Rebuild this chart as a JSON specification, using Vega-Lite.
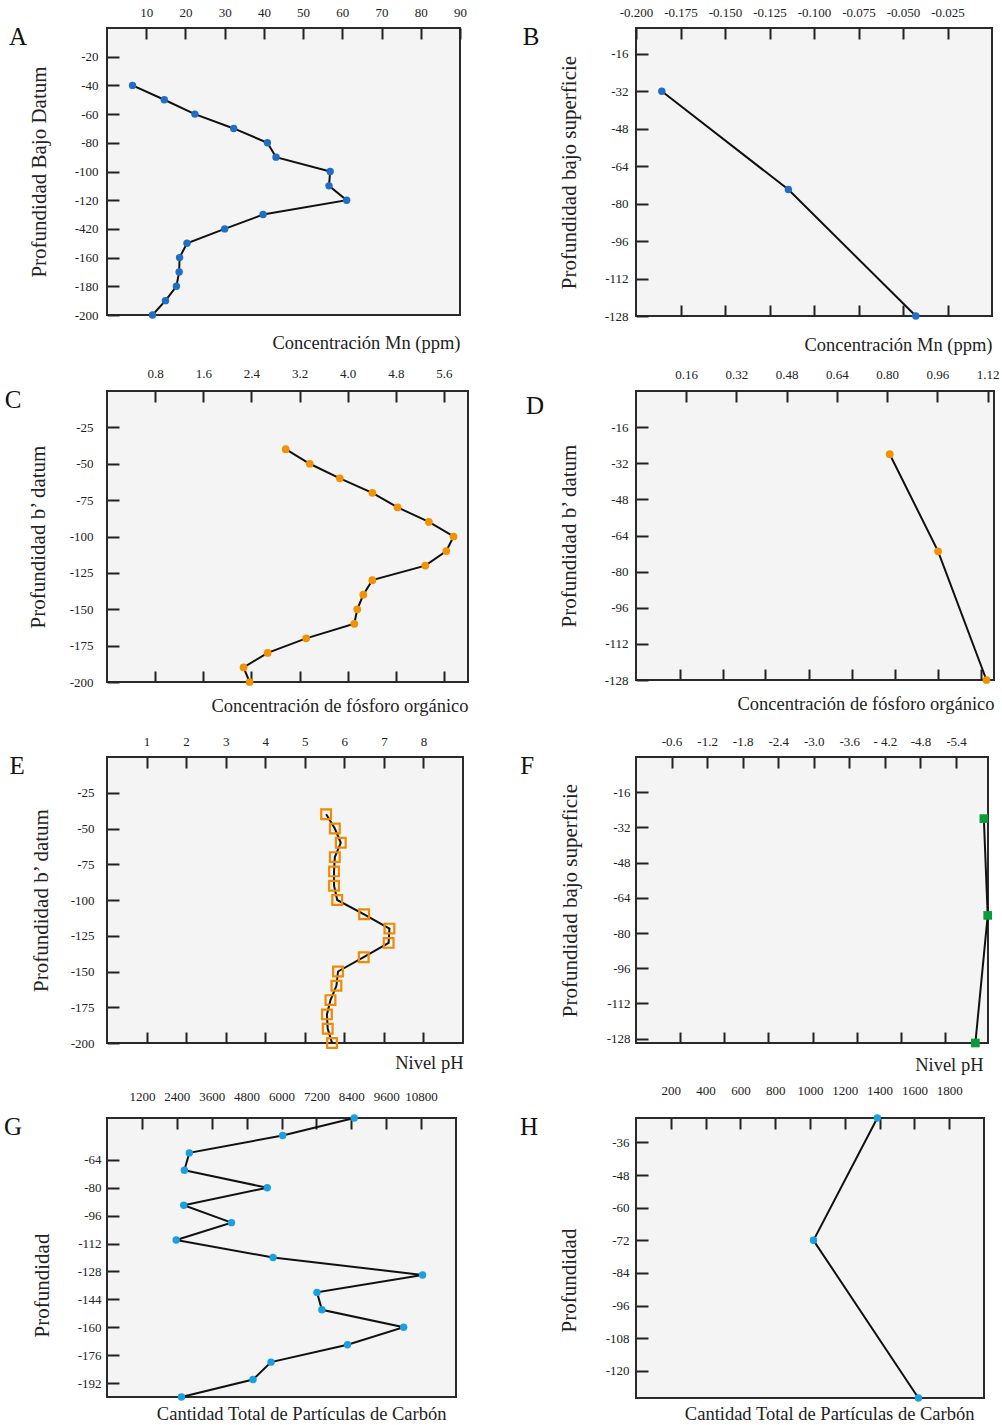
{
  "$schema": "https://vega.github.io/schema/vega-lite/v6.json",
  "background": "white",
  "padding": {"left": 3, "top": 5, "right": 2, "bottom": 2},
  "config": {
    "font": "Liberation Serif",
    "locale": {"number": {"decimal": ".", "thousands": ",", "grouping": [3], "currency": ["$", ""], "minus": "-"}},
    "view": {"fill": "#f4f4f4", "stroke": "#2a2a2a", "strokeWidth": 2},
    "title": {"font": "Liberation Serif", "fontSize": 25, "fontWeight": "normal", "color": "#111", "orient": "left", "anchor": "end", "frame": "group", "angle": 0, "baseline": "top", "align": "right", "dy": -3},
    "axis": {"domain": false, "grid": false, "labelFont": "Liberation Serif", "labelFontSize": 13, "labelColor": "#222", "titleFont": "Liberation Serif", "titleFontWeight": "normal", "titleColor": "#222", "tickColor": "#222", "tickWidth": 2, "tickSize": -11, "labelFlush": false, "labelOverlap": false},
    "axisY": {"titleFontSize": 21, "tickSize": -12},
    "axisX": {"titleFontSize": 18.5}
  },
  "columns": 2,
  "spacing": {"row": 75, "column": 168},
  "bounds": "flush",
  "concat": [
    {
      "width": 353, "height": 287,
      "title": {"text": "A", "offset": -17},
      "data": {"values": [
        {"depth": -40, "v": 6.5}, {"depth": -50, "v": 14.6}, {"depth": -60, "v": 22.4}, {"depth": -70, "v": 32.3},
        {"depth": -80, "v": 40.9}, {"depth": -90, "v": 43.1}, {"depth": -100, "v": 56.9}, {"depth": -110, "v": 56.6},
        {"depth": -120, "v": 61.1}, {"depth": -130, "v": 39.8}, {"depth": -140, "v": 30.0}, {"depth": -150, "v": 20.4},
        {"depth": -160, "v": 18.5}, {"depth": -170, "v": 18.4}, {"depth": -180, "v": 17.7}, {"depth": -190, "v": 14.9},
        {"depth": -200, "v": 11.6}
      ]},
      "encoding": {
        "y": {"field": "depth", "type": "quantitative", "scale": {"domain": [-200, 0], "nice": false, "zero": false},
              "axis": {"values": [-20, -40, -60, -80, -100, -120, -140, -160, -180, -200], "format": "d", "labelExpr": "datum.value == -140 ? '-420' : datum.label", "labelPadding": 21, "title": "Profundidad Bajo Datum", "titlePadding": 25}}
      },
      "layer": [
        {"mark": {"type": "line", "color": "#111", "strokeWidth": 2},
         "encoding": {
           "x": {"field": "v", "type": "quantitative", "scale": {"domain": [0, 90], "nice": false, "zero": false},
                 "axis": {"orient": "top", "values": [10, 20, 30, 40, 50, 60, 70, 80, 90], "format": "d", "labelPadding": 20, "title": null}},
           "order": {"field": "depth", "sort": "descending"}
         }},
        {"mark": {"type": "circle", "size": 55, "color": "#1f6fc5", "opacity": 1},
         "encoding": {
           "x": {"field": "v", "type": "quantitative", "axis": {"orient": "bottom", "labels": false, "ticks": false, "title": "Concentración Mn (ppm)", "titleAnchor": "end", "titlePadding": 18}}
         }}
      ],
      "resolve": {"axis": {"x": "independent"}}
    },
    {
      "width": 356, "height": 288,
      "title": {"text": "B", "offset": 2},
      "data": {"values": [
        {"depth": -32, "v": -0.1855}, {"depth": -74, "v": -0.1144}, {"depth": -128, "v": -0.0428}
      ]},
      "encoding": {
        "y": {"field": "depth", "type": "quantitative", "scale": {"domain": [-128, -5], "nice": false, "zero": false},
              "axis": {"values": [-16, -32, -48, -64, -80, -96, -112, -128], "format": "d", "labelPadding": 20, "title": "Profundidad bajo superficie", "titlePadding": 25}}
      },
      "layer": [
        {"mark": {"type": "line", "color": "#111", "strokeWidth": 2},
         "encoding": {
           "x": {"field": "v", "type": "quantitative", "scale": {"domain": [-0.2, 0], "nice": false, "zero": false},
                 "axis": {"orient": "top", "values": [-0.2, -0.175, -0.15, -0.125, -0.1, -0.075, -0.05, -0.025], "format": ".3f", "labelPadding": 20, "title": null}},
           "order": {"field": "depth", "sort": "descending"}
         }},
        {"mark": {"type": "circle", "size": 55, "color": "#1f6fc5", "opacity": 1},
         "encoding": {
           "x": {"field": "v", "type": "quantitative", "axis": {"orient": "bottom", "labels": false, "values": [-0.175, -0.15, -0.125, -0.1, -0.075, -0.05, -0.025], "title": "Concentración Mn (ppm)", "titleAnchor": "end", "titlePadding": 18}}
         }}
      ],
      "resolve": {"axis": {"x": "independent"}}
    },
    {
      "width": 361, "height": 291,
      "title": {"text": "C", "offset": -11},
      "data": {"values": [
        {"depth": -40, "v": 2.97}, {"depth": -50, "v": 3.37}, {"depth": -60, "v": 3.87}, {"depth": -70, "v": 4.41},
        {"depth": -80, "v": 4.83}, {"depth": -90, "v": 5.35}, {"depth": -100, "v": 5.76}, {"depth": -110, "v": 5.64},
        {"depth": -120, "v": 5.29}, {"depth": -130, "v": 4.41}, {"depth": -140, "v": 4.26}, {"depth": -150, "v": 4.16},
        {"depth": -160, "v": 4.11}, {"depth": -170, "v": 3.31}, {"depth": -180, "v": 2.67}, {"depth": -190, "v": 2.27},
        {"depth": -200, "v": 2.37}
      ]},
      "encoding": {
        "y": {"field": "depth", "type": "quantitative", "scale": {"domain": [-200, 0], "nice": false, "zero": false},
              "axis": {"values": [-25, -50, -75, -100, -125, -150, -175, -200], "format": "d", "labelPadding": 26, "title": "Profundidad b’ datum", "titlePadding": 21}}
      },
      "layer": [
        {"mark": {"type": "line", "color": "#111", "strokeWidth": 2},
         "encoding": {
           "x": {"field": "v", "type": "quantitative", "scale": {"domain": [0, 6], "nice": false, "zero": false},
                 "axis": {"orient": "top", "values": [0.8, 1.6, 2.4, 3.2, 4.0, 4.8, 5.6], "format": ".1f", "labelPadding": 22, "title": null}},
           "order": {"field": "depth", "sort": "descending"}
         }},
        {"mark": {"type": "circle", "size": 60, "color": "#f39200", "opacity": 1},
         "encoding": {
           "x": {"field": "v", "type": "quantitative", "axis": {"orient": "bottom", "labels": false, "values": [0.8, 1.6, 2.4, 3.2, 4.0, 4.8, 5.6], "title": "Concentración de fósforo orgánico", "titleAnchor": "end", "titlePadding": 13}}
         }}
      ],
      "resolve": {"axis": {"x": "independent"}}
    },
    {
      "width": 358, "height": 289,
      "title": {"text": "D", "offset": -4, "dy": 3},
      "data": {"values": [
        {"depth": -28, "v": 0.808}, {"depth": -71, "v": 0.962}, {"depth": -128, "v": 1.116}
      ]},
      "encoding": {
        "y": {"field": "depth", "type": "quantitative", "scale": {"domain": [-128, 0], "nice": false, "zero": false},
              "axis": {"values": [-16, -32, -48, -64, -80, -96, -112, -128], "format": "d", "labelPadding": 20, "title": "Profundidad b’ datum", "titlePadding": 25}}
      },
      "layer": [
        {"mark": {"type": "line", "color": "#111", "strokeWidth": 2},
         "encoding": {
           "x": {"field": "v", "type": "quantitative", "scale": {"domain": [0, 1.14], "nice": false, "zero": false},
                 "axis": {"orient": "top", "values": [0.16, 0.32, 0.48, 0.64, 0.8, 0.96, 1.12], "format": ".2f", "labelPadding": 21, "title": null}},
           "order": {"field": "depth", "sort": "descending"}
         }},
        {"mark": {"type": "circle", "size": 60, "color": "#f39200", "opacity": 1},
         "encoding": {
           "x": {"field": "v", "type": "quantitative", "axis": {"orient": "bottom", "labels": false, "values": [0.14, 0.277, 0.412, 0.55, 0.688, 0.824, 0.962, 1.1], "title": "Concentración de fósforo orgánico", "titleAnchor": "end", "titlePadding": 13}}
         }}
      ],
      "resolve": {"axis": {"x": "independent"}}
    },
    {
      "width": 356, "height": 286,
      "title": {"text": "E", "offset": -10},
      "data": {"values": [
        {"depth": -40, "v": 5.54}, {"depth": -50, "v": 5.76}, {"depth": -60, "v": 5.91}, {"depth": -70, "v": 5.76},
        {"depth": -80, "v": 5.74}, {"depth": -90, "v": 5.74}, {"depth": -100, "v": 5.82}, {"depth": -110, "v": 6.50},
        {"depth": -120, "v": 7.14}, {"depth": -130, "v": 7.12}, {"depth": -140, "v": 6.49}, {"depth": -150, "v": 5.84},
        {"depth": -160, "v": 5.80}, {"depth": -170, "v": 5.65}, {"depth": -180, "v": 5.56}, {"depth": -190, "v": 5.58},
        {"depth": -200, "v": 5.69}
      ]},
      "encoding": {
        "y": {"field": "depth", "type": "quantitative", "scale": {"domain": [-200, 0], "nice": false, "zero": false},
              "axis": {"values": [-25, -50, -75, -100, -125, -150, -175, -200], "format": "d", "labelPadding": 25, "title": "Profundidad b’ datum", "titlePadding": 19}}
      },
      "layer": [
        {"mark": {"type": "line", "color": "#111", "strokeWidth": 2},
         "encoding": {
           "x": {"field": "v", "type": "quantitative", "scale": {"domain": [0, 9], "nice": false, "zero": false},
                 "axis": {"orient": "top", "values": [1, 2, 3, 4, 5, 6, 7, 8], "format": "d", "labelPadding": 20, "title": null}},
           "order": {"field": "depth", "sort": "descending"}
         }},
        {"mark": {"type": "point", "shape": "square", "size": 95, "filled": false, "color": "#f08a00", "strokeWidth": 2.2, "opacity": 1},
         "encoding": {
           "x": {"field": "v", "type": "quantitative", "axis": {"orient": "bottom", "labels": false, "values": [1, 2, 3, 4, 5, 6, 7, 8], "title": "Nivel pH", "titleAnchor": "end", "titlePadding": 9}}
         }}
      ],
      "resolve": {"axis": {"x": "independent"}}
    },
    {
      "width": 352, "height": 286,
      "title": {"text": "F", "offset": 11},
      "data": {"values": [
        {"depth": -28, "v": -5.87}, {"depth": -72, "v": -5.935}, {"depth": -130, "v": -5.727}
      ]},
      "encoding": {
        "y": {"field": "depth", "type": "quantitative", "scale": {"domain": [-130, 0], "nice": false, "zero": false},
              "axis": {"values": [-16, -32, -48, -64, -80, -96, -112, -128], "format": "d", "labelPadding": 18, "title": "Profundidad bajo superficie", "titlePadding": 26}}
      },
      "layer": [
        {"mark": {"type": "line", "color": "#111", "strokeWidth": 2},
         "encoding": {
           "x": {"field": "v", "type": "quantitative", "scale": {"domain": [0, -5.94], "nice": false, "zero": false},
                 "axis": {"orient": "top", "values": [-0.6, -1.2, -1.8, -2.4, -3.0, -3.6, -4.2, -4.8, -5.4], "format": ".1f", "labelExpr": "datum.value == -4.2 ? '- 4.2' : datum.label", "labelPadding": 20, "title": null}},
           "order": {"field": "depth", "sort": "descending"}
         }},
        {"mark": {"type": "point", "shape": "square", "size": 75, "filled": true, "color": "#0a9a3c", "opacity": 1},
         "encoding": {
           "x": {"field": "v", "type": "quantitative", "axis": {"orient": "bottom", "labels": false, "values": [-0.745, -1.49, -2.235, -2.98, -3.725, -4.47, -5.215], "title": "Nivel pH", "titleAnchor": "end", "titleAlign": "right", "titleX": 347, "titlePadding": 11}}
         }}
      ],
      "resolve": {"axis": {"x": "independent"}}
    },
    {
      "width": 349, "height": 279,
      "title": {"text": "G", "offset": -9},
      "data": {"values": [
        {"depth": -40, "v": 8500}, {"depth": -50, "v": 6040}, {"depth": -60, "v": 2830}, {"depth": -70, "v": 2660},
        {"depth": -80, "v": 5510}, {"depth": -90, "v": 2640}, {"depth": -100, "v": 4280}, {"depth": -110, "v": 2380},
        {"depth": -120, "v": 5710}, {"depth": -130, "v": 10850}, {"depth": -140, "v": 7220}, {"depth": -150, "v": 7390},
        {"depth": -160, "v": 10200}, {"depth": -170, "v": 8270}, {"depth": -180, "v": 5640}, {"depth": -190, "v": 5020},
        {"depth": -200, "v": 2560}
      ]},
      "encoding": {
        "y": {"field": "depth", "type": "quantitative", "scale": {"domain": [-200, -40], "nice": false, "zero": false},
              "axis": {"values": [-64, -80, -96, -112, -128, -144, -160, -176, -192], "format": "d", "labelPadding": 18, "title": "Profundidad", "titlePadding": 25, "titleY": 167}}
      },
      "layer": [
        {"mark": {"type": "line", "color": "#111", "strokeWidth": 2},
         "encoding": {
           "x": {"field": "v", "type": "quantitative", "scale": {"domain": [0, 12000], "nice": false, "zero": false},
                 "axis": {"orient": "top", "values": [1200, 2400, 3600, 4800, 6000, 7200, 8400, 9600, 10800], "format": "d", "labelPadding": 26, "title": null}},
           "order": {"field": "depth", "sort": "descending"}
         }},
        {"mark": {"type": "circle", "size": 55, "color": "#1aa0e0", "opacity": 1},
         "encoding": {
           "x": {"field": "v", "type": "quantitative", "axis": {"orient": "bottom", "labels": false, "ticks": false, "title": "Cantidad Total de Partículas de Carbón", "titleAnchor": "end", "titleAlign": "right", "titleX": 339, "titlePadding": 7}}
         }}
      ],
      "resolve": {"axis": {"x": "independent"}}
    },
    {
      "width": 348, "height": 280,
      "title": {"text": "H", "offset": 2},
      "data": {"values": [
        {"depth": -27, "v": 1387}, {"depth": -72, "v": 1020}, {"depth": -130, "v": 1623}
      ]},
      "encoding": {
        "y": {"field": "depth", "type": "quantitative", "scale": {"domain": [-130, -27], "nice": false, "zero": false},
              "axis": {"values": [-36, -48, -60, -72, -84, -96, -108, -120], "format": "d", "labelPadding": 19, "title": "Profundidad", "titlePadding": 26, "titleY": 162}}
      },
      "layer": [
        {"mark": {"type": "line", "color": "#111", "strokeWidth": 2},
         "encoding": {
           "x": {"field": "v", "type": "quantitative", "scale": {"domain": [0, 2000], "nice": false, "zero": false},
                 "axis": {"orient": "top", "values": [200, 400, 600, 800, 1000, 1200, 1400, 1600, 1800], "format": "d", "labelPadding": 32, "title": null}},
           "order": {"field": "depth", "sort": "descending"}
         }},
        {"mark": {"type": "circle", "size": 55, "color": "#1aa0e0", "opacity": 1},
         "encoding": {
           "x": {"field": "v", "type": "quantitative", "axis": {"orient": "bottom", "labels": false, "ticks": false, "title": "Cantidad Total de Partículas de Carbón", "titleAnchor": "end", "titleAlign": "right", "titleX": 338, "titlePadding": 6}}
         }}
      ],
      "resolve": {"axis": {"x": "independent"}}
    }
  ]
}
